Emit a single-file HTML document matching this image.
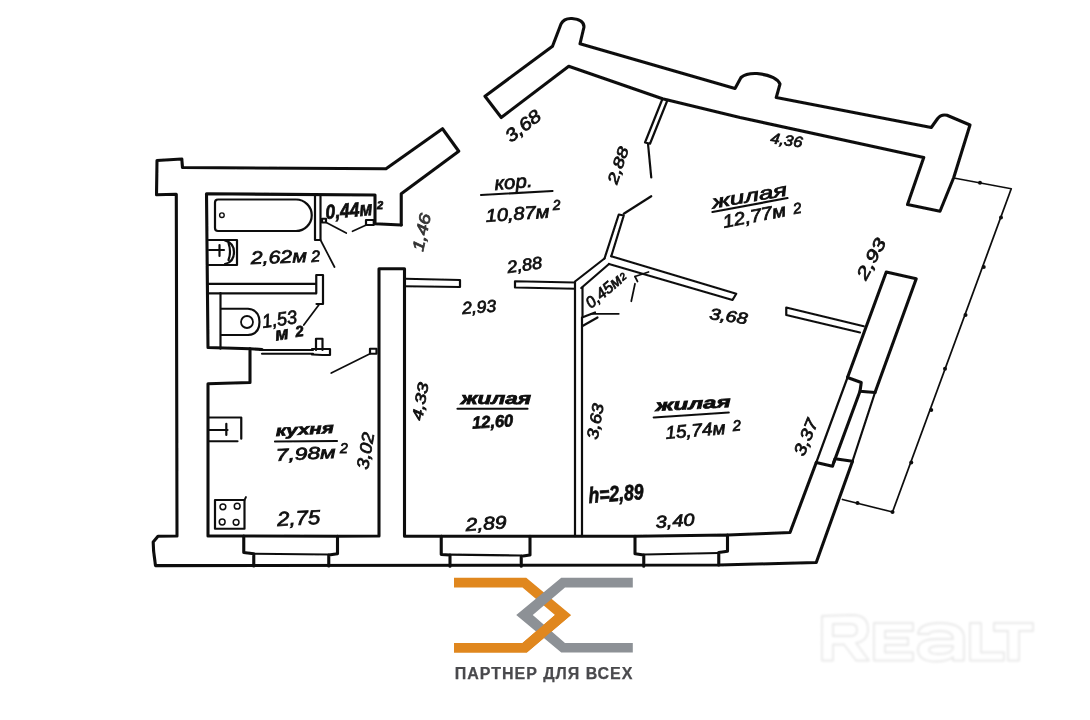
<!DOCTYPE html>
<html><head><meta charset="utf-8"><title>plan</title>
<style>
html,body{margin:0;padding:0;background:#fff;}
body{width:1090px;height:720px;overflow:hidden;font-family:"Liberation Sans",sans-serif;}
svg{display:block;}
svg text{font-family:"Liberation Sans",sans-serif;}
</style></head><body>
<svg width="1090" height="720" viewBox="0 0 1090 720">
<defs>
<filter id="b0" x="-2%" y="-20%" width="104%" height="140%"><feGaussianBlur stdDeviation="0.3"/></filter>
<filter id="b1" x="-2%" y="-2%" width="104%" height="104%"><feGaussianBlur stdDeviation="0.45"/></filter>
<filter id="b2" x="-5%" y="-10%" width="110%" height="120%"><feGaussianBlur stdDeviation="0.8"/></filter>
</defs>
<rect width="1090" height="720" fill="#fff"/>
<g filter="url(#b1)">
<g fill="none" stroke="#111" stroke-linejoin="round" stroke-linecap="round">
<g stroke-width="3.1">
<path d="M401.25,225.00 L375.00,223.75 L375.00,195.00 L206.50,193.75 L208.00,347.50 L250.00,348.75 L250.00,382.50 L208.00,383.75 L208.00,536.00 L243.75,536.00 L243.75,552.50 L253.75,553.75 L253.75,566.00"/>
<path d="M401.25,225.00 L401.25,193.75 L458.75,151.25 L442.50,128.75 L386.00,168.75 L182.50,167.50 L181.80,159.00 L157.00,160.50 L156.50,194.70 L176.30,194.30 L177.00,536.00 L158.00,536.30 L153.20,542.00 L153.60,551.00 L155.50,565.60 L718.75,565.00 L816.25,562.50 L852.50,461.25"/>
<path d="M337.50,536.25 L379.00,536.00 L379.00,268.75 L404.50,268.75 L404.50,536.25 L441.25,536.25"/>
<path d="M243.75,536.00 L337.50,536.25 L337.50,553.75 L328.75,555.00 L328.75,566.00"/>
<path d="M441.25,536.25 L441.25,554.50 L450.00,555.00 L450.00,566.25"/>
<path d="M441.25,536.25 L530.00,536.25 L530.00,555.00 L521.25,556.25 L521.25,566.25"/>
<path d="M530.00,536.25 L635.00,536.25 L635.00,553.75 L643.75,555.00 L643.75,566.25"/>
<path d="M635.00,536.25 L727.50,535.00 L727.50,551.25 L718.75,552.50 L718.75,565.00"/>
<path d="M727.50,535.00 L790.00,532.50 L816.25,462.50"/>
<path d="M816.25,462.50 L832.50,466.25 L835.00,458.75 L852.50,461.25"/>
<path d="M833.75,462.50 L860.00,391.25"/>
<path d="M847.50,377.50 L861.25,382.50 L860.00,391.25 L875.00,392.50"/>
<path d="M847.50,377.50 L886.25,272.00 L916.25,278.75 L875.00,392.50"/>
<path d="M485,96.25 L552.5,46.25 L561,24 Q564,18 572,18.5 Q584,19.5 584,27 L580,43.75 L735,88.5 L741,77.5 Q746,73 757,73.5 Q776,75.5 780,84 L776.25,97.5 L931.25,127.5 L937.5,118.75 Q941,114 947,115.2 L970,125 L953.75,177.5 L940,211.25 L907.5,204.5 L923.75,157.5 L740,117.5 L662.5,98.75 L568.75,66.25 L501.25,117.5 Z"/>
<path d="M250.00,348.75 L262.00,349.50"/>
</g>
<g stroke-width="2.2">
<path d="M253.75,553.75 L328.75,554.50"/>
<path d="M450.00,554.70 L521.25,555.50"/>
<path d="M643.75,554.50 L718.75,553.00"/>
<path d="M816.25,462.50 L847.50,377.50"/>
<path d="M852.50,461.25 L875.00,392.50"/>
<path d="M315.00,195.00 L315.00,240.00 L320.50,240.00 L320.50,195.00"/>
<path d="M322.00,218.75 L326.00,218.75 L326.00,222.50 L322.00,222.50 Z"/>
<path d="M366.00,220.00 L373.75,220.00 L373.75,225.00 L366.00,225.00 Z"/>
<path d="M208.00,283.80 L316.00,283.80"/>
<path d="M208.00,293.30 L316.00,293.30"/>
<path d="M316.25,293.30 L316.25,275.00 L323.00,275.00 L323.00,304.00 L316.50,304.00"/>
<path d="M220.50,293.00 L220.50,348.75"/>
<path d="M221,308.75 L248,308.75 Q259.5,310 259.5,322 Q259.5,334 248,335 L221,335"/>
<path d="M260.00,350.00 L313.00,350.00"/>
<path d="M262.00,353.75 L313.00,353.75"/>
<path d="M316.00,350.00 L316.00,338.75 L322.50,338.75 L322.50,350.00"/>
<path d="M312.00,349.00 L330.00,349.00 L330.00,355.00 L322.50,355.00 L312.00,354.50"/>
<path d="M370.00,348.75 L376.50,348.75 L376.50,353.75 L370.00,353.75 Z"/>
<path d="M218,199.5 L296,199.5 A15.5,15.5 0 0 1 296,231 L218,231 Q215,231 215,228 L215,202.5 Q215,199.5 218,199.5 Z"/>
<path d="M208.75,240.00 L237.00,240.00 L237.00,265.00 L208.75,265.00"/>
<path d="M225,240.5 Q234,243 234,252 Q234,262 225,264"/>
<path d="M228.5,243 Q231.5,252 228.5,260"/>
<path d="M209.00,250.00 L224.00,250.00"/>
<path d="M219.50,245.00 L219.50,256.00"/>
<path d="M208.75,417.50 L241.25,417.50 L241.25,438.75"/>
<path d="M208.75,441.25 L237.50,441.25"/>
<path d="M208.75,430.00 L227.50,430.00"/>
<path d="M226.30,423.75 L226.30,435.00"/>
<path d="M215.00,500.00 L244.50,500.00 L244.50,528.75 L215.00,528.75 Z"/>
<path d="M405.00,278.75 L460.00,280.00 L460.00,287.00 L405.00,286.25"/>
<path d="M575.00,282.50 L515.00,281.25 L515.00,287.50 L575.00,288.75"/>
<path d="M575.00,282.50 L575.00,536.25"/>
<path d="M582.00,318.00 L582.00,536.25"/>
<path d="M575.00,281.50 L604.50,258.50"/>
<path d="M582.50,287.50 L582.50,317.00"/>
<path d="M581.25,288.00 L609.00,264.00"/>
<path d="M582.00,317.50 L595.00,312.50"/>
<path d="M582.50,326.00 L597.50,317.50"/>
<path d="M604.50,258.50 L618.75,214.50 L623.75,215.50 L611.25,256.25"/>
<path d="M623.75,213.75 L651.25,196.25"/>
<path d="M611.25,256.25 L736.25,293.75 L732.50,300.00 L609.00,264.00"/>
<path d="M662.50,98.75 L645.00,142.50 L650.00,143.75 L667.50,100.00"/>
<path d="M648.00,143.75 L651.25,177.50"/>
<path d="M863.75,326.25 L786.25,307.50 L786.25,315.00 L860.00,332.50"/>
<path d="M275.00,441.50 L337.00,441.00"/>
<path d="M481.00,195.00 L552.50,191.00"/>
<path d="M712.50,212.00 L787.50,198.00"/>
<path d="M457.50,408.75 L527.50,408.75"/>
<path d="M653.75,417.50 L728.75,412.50"/>
</g>
<g stroke-width="1.75">
<path d="M320.50,240.00 L334.50,267.00"/>
<path d="M326.25,222.50 L346.25,233.00"/>
<path d="M352.50,231.25 L366.25,225.00"/>
<path d="M318.75,305.00 L303.75,325.00"/>
<path d="M370.00,353.75 L331.25,373.00"/>
<path d="M244.50,500.00 L246.00,497.00"/>
<path d="M591.00,313.75 L618.75,313.75"/>
<path d="M635.00,276.50 L648.50,272.00"/>
<path d="M635.00,276.50 L637.50,281.50"/>
<path d="M635.00,283.75 L631.25,301.25"/>
<path d="M953.75,178.00 L1011.25,188.75 L892.50,512.00 L842.50,499.50"/>
</g>
</g>
<circle cx="247" cy="322" r="6" fill="none" stroke="#111" stroke-width="1.8"/>
<circle cx="221.9" cy="215.2" r="2.3" fill="none" stroke="#111" stroke-width="1.4"/>
<circle cx="222.9" cy="506.8" r="2.9" fill="none" stroke="#111" stroke-width="1.5"/>
<circle cx="237.2" cy="506.2" r="2.9" fill="none" stroke="#111" stroke-width="1.5"/>
<circle cx="222.2" cy="522" r="2.9" fill="none" stroke="#111" stroke-width="1.5"/>
<circle cx="236.1" cy="522.3" r="2.9" fill="none" stroke="#111" stroke-width="1.5"/>
<circle cx="980" cy="182.8" r="2" fill="#111"/>
<circle cx="1001" cy="217.5" r="2" fill="#111"/>
<circle cx="983.75" cy="267" r="2" fill="#111"/>
<circle cx="965.5" cy="315" r="2" fill="#111"/>
<circle cx="945" cy="368.75" r="2" fill="#111"/>
<circle cx="931.25" cy="410" r="2" fill="#111"/>
<circle cx="911.25" cy="462.5" r="2" fill="#111"/>
<circle cx="892.5" cy="512" r="2" fill="#111"/>
<circle cx="857.5" cy="503" r="2" fill="#111"/>
<g>
<text x="326" y="219" font-size="20" font-weight="700" font-style="italic" transform="rotate(-5 326 219)" textLength="47" lengthAdjust="spacingAndGlyphs" fill="#111" stroke="#111" stroke-width="0.75">0,44м</text>
<text x="377" y="209" font-size="11" font-weight="700" font-style="italic" fill="#111" stroke="#111" stroke-width="0.75">2</text>
<text x="251" y="264" font-size="18" font-weight="400" font-style="italic" transform="rotate(-2 251 264)" textLength="56" lengthAdjust="spacingAndGlyphs" fill="#111" stroke="#111" stroke-width="0.75">2,62м</text>
<text x="311.5" y="262" font-size="16" font-weight="400" font-style="italic" transform="rotate(-4 311.5 262)" fill="#111" stroke="#111" stroke-width="0.75">2</text>
<text x="263" y="328" font-size="19" font-weight="400" font-style="italic" transform="rotate(-8 263 328)" textLength="35" lengthAdjust="spacingAndGlyphs" fill="#111" stroke="#111" stroke-width="0.75">1,53</text>
<text x="276" y="340.5" font-size="18" font-weight="700" font-style="italic" transform="rotate(-8 276 340.5)" fill="#111" stroke="#111" stroke-width="0.75">м</text>
<text x="296" y="337" font-size="15" font-weight="700" font-style="italic" transform="rotate(-8 296 337)" fill="#111" stroke="#111" stroke-width="0.75">2</text>
<text x="276" y="436" font-size="15" font-weight="700" font-style="italic" transform="rotate(-3 276 436)" textLength="58" lengthAdjust="spacingAndGlyphs" fill="#111" stroke="#111" stroke-width="0.75">кухня</text>
<text x="276" y="461" font-size="17" font-weight="400" font-style="italic" transform="rotate(-3 276 461)" textLength="60" lengthAdjust="spacingAndGlyphs" fill="#111" stroke="#111" stroke-width="0.75">7,98м</text>
<text x="340" y="453" font-size="14" font-weight="400" font-style="italic" fill="#111" stroke="#111" stroke-width="0.75">2</text>
<text x="368" y="470" font-size="17" font-weight="400" font-style="italic" transform="rotate(-80 368 470)" textLength="37" lengthAdjust="spacingAndGlyphs" fill="#111" stroke="#111" stroke-width="0.75">3,02</text>
<text x="277.5" y="526" font-size="20" font-weight="400" font-style="italic" transform="rotate(-3 277.5 526)" textLength="43" lengthAdjust="spacingAndGlyphs" fill="#111" stroke="#111" stroke-width="0.75">2,75</text>
<text x="423" y="252" font-size="16" font-weight="400" font-style="italic" transform="rotate(-78 423 252)" textLength="38" lengthAdjust="spacingAndGlyphs" fill="#333" stroke="#333" stroke-width="0.75">1,46</text>
<text x="511" y="143" font-size="18" font-weight="400" font-style="italic" transform="rotate(-38 511 143)" textLength="40" lengthAdjust="spacingAndGlyphs" fill="#111" stroke="#111" stroke-width="0.75">3,68</text>
<text x="495" y="190" font-size="19" font-weight="400" font-style="italic" transform="rotate(-5 495 190)" textLength="38" lengthAdjust="spacingAndGlyphs" fill="#111" stroke="#111" stroke-width="0.75">кор.</text>
<text x="486" y="222" font-size="18" font-weight="400" font-style="italic" transform="rotate(-4 486 222)" textLength="64" lengthAdjust="spacingAndGlyphs" fill="#111" stroke="#111" stroke-width="0.75">10,87м</text>
<text x="553" y="210" font-size="14" font-weight="400" font-style="italic" transform="rotate(-4 553 210)" fill="#111" stroke="#111" stroke-width="0.75">2</text>
<text x="617" y="185" font-size="15" font-weight="400" font-style="italic" transform="rotate(-72 617 185)" textLength="38" lengthAdjust="spacingAndGlyphs" fill="#111" stroke="#111" stroke-width="0.75">2,88</text>
<text x="713" y="208.5" font-size="18" font-weight="400" font-style="italic" transform="rotate(-10 713 208.5)" textLength="76" lengthAdjust="spacingAndGlyphs" fill="#111" stroke="#111" stroke-width="0.75">жилая</text>
<text x="724" y="228" font-size="18" font-weight="400" font-style="italic" transform="rotate(-11 724 228)" textLength="64" lengthAdjust="spacingAndGlyphs" fill="#111" stroke="#111" stroke-width="0.75">12,77м</text>
<text x="794" y="214" font-size="15" font-weight="400" font-style="italic" transform="rotate(-10 794 214)" fill="#111" stroke="#111" stroke-width="0.75">2</text>
<text x="770" y="143" font-size="15" font-weight="400" font-style="italic" transform="rotate(8 770 143)" textLength="32" lengthAdjust="spacingAndGlyphs" fill="#111" stroke="#111" stroke-width="0.75">4,36</text>
<text x="866" y="281" font-size="17" font-weight="400" font-style="italic" transform="rotate(-62 866 281)" textLength="44" lengthAdjust="spacingAndGlyphs" fill="#111" stroke="#111" stroke-width="0.75">2,93</text>
<text x="508" y="273" font-size="17" font-weight="400" font-style="italic" transform="rotate(-8 508 273)" textLength="35" lengthAdjust="spacingAndGlyphs" fill="#111" stroke="#111" stroke-width="0.75">2,88</text>
<text x="462.5" y="314" font-size="17" font-weight="400" font-style="italic" transform="rotate(-4 462.5 314)" textLength="34" lengthAdjust="spacingAndGlyphs" fill="#111" stroke="#111" stroke-width="0.75">2,93</text>
<text x="591" y="309" font-size="16" font-weight="400" font-style="italic" transform="rotate(-40 591 309)" textLength="42" lengthAdjust="spacingAndGlyphs" fill="#111" stroke="#111" stroke-width="0.75">0,45м</text>
<text x="623" y="281" font-size="10" font-weight="400" font-style="italic" transform="rotate(-40 623 281)" fill="#111" stroke="#111" stroke-width="0.75">2</text>
<text x="709" y="319" font-size="16" font-weight="400" font-style="italic" transform="rotate(8 709 319)" textLength="38" lengthAdjust="spacingAndGlyphs" fill="#111" stroke="#111" stroke-width="0.75">3,68</text>
<text x="422" y="421" font-size="15" font-weight="400" font-style="italic" transform="rotate(-80 422 421)" textLength="38" lengthAdjust="spacingAndGlyphs" fill="#111" stroke="#111" stroke-width="0.75">4,33</text>
<text x="461" y="403.5" font-size="16" font-weight="700" font-style="italic" textLength="70" lengthAdjust="spacingAndGlyphs" fill="#111" stroke="#111" stroke-width="0.75">жилая</text>
<text x="472.5" y="428.5" font-size="17" font-weight="700" font-style="italic" transform="rotate(-3 472.5 428.5)" textLength="41" lengthAdjust="spacingAndGlyphs" fill="#111" stroke="#111" stroke-width="0.75">12,60</text>
<text x="466" y="531" font-size="18" font-weight="400" font-style="italic" transform="rotate(-4 466 531)" textLength="41" lengthAdjust="spacingAndGlyphs" fill="#111" stroke="#111" stroke-width="0.75">2,89</text>
<text x="597.5" y="440" font-size="16" font-weight="400" font-style="italic" transform="rotate(-80 597.5 440)" textLength="36" lengthAdjust="spacingAndGlyphs" fill="#111" stroke="#111" stroke-width="0.75">3,63</text>
<text x="589" y="503" font-size="22" font-weight="700" font-style="italic" transform="rotate(-4 589 503)" textLength="55" lengthAdjust="spacingAndGlyphs" fill="#111" stroke="#111" stroke-width="0.75">h=2,89</text>
<text x="656" y="411" font-size="16" font-weight="700" font-style="italic" transform="rotate(-3 656 411)" textLength="75" lengthAdjust="spacingAndGlyphs" fill="#111" stroke="#111" stroke-width="0.75">жилая</text>
<text x="666" y="439" font-size="18" font-weight="400" font-style="italic" transform="rotate(-5 666 439)" textLength="60" lengthAdjust="spacingAndGlyphs" fill="#111" stroke="#111" stroke-width="0.75">15,74м</text>
<text x="733" y="431" font-size="15" font-weight="400" font-style="italic" transform="rotate(-5 733 431)" fill="#111" stroke="#111" stroke-width="0.75">2</text>
<text x="656" y="528" font-size="17" font-weight="400" font-style="italic" transform="rotate(-4 656 528)" textLength="39" lengthAdjust="spacingAndGlyphs" fill="#111" stroke="#111" stroke-width="0.75">3,40</text>
<text x="804" y="457" font-size="17" font-weight="400" font-style="italic" transform="rotate(-68 804 457)" textLength="38" lengthAdjust="spacingAndGlyphs" fill="#111" stroke="#111" stroke-width="0.75">3,37</text>
</g>
</g>
<path d="M454.00,577.75 L526.25,577.75 L571.00,615.00 L526.88,652.50 L454.00,652.50 L454.00,643.10 L522.50,643.12 L555.00,615.00 L522.50,587.50 L454.00,587.50 Z" fill="#e0871e"/><path d="M632.80,577.75 L561.25,577.75 L516.25,615.00 L561.25,652.50 L632.80,652.50 L632.80,643.10 L565.00,643.12 L532.75,615.00 L565.00,587.50 L632.80,587.50 Z" fill="#8d9196"/><clipPath id="lc"><rect x="440" y="615" width="220" height="60"/></clipPath><path d="M454.00,577.75 L526.25,577.75 L571.00,615.00 L526.88,652.50 L454.00,652.50 L454.00,643.10 L522.50,643.12 L555.00,615.00 L522.50,587.50 L454.00,587.50 Z" fill="#e0871e" clip-path="url(#lc)"/><text x="454.8" y="678.6" font-size="16" font-weight="700" fill="#4a4a4d" stroke="#4a4a4d" stroke-width="0.25" textLength="177.6" lengthAdjust="spacing" filter="url(#b0)">ПАРТНЕР ДЛЯ ВСЕХ</text><g fill="#fff" stroke="#e9e9e9" stroke-width="1.8" stroke-linejoin="round" filter="url(#b2)"><path d="M822,616 L852,615 Q868,615 868,629 Q868,641 856,643 L869,660.5 L856,660.5 L844,644.5 L833,644.5 L833,660.5 L822,660.5 Z M833,624 L833,636 L851,636 Q857,636 857,630 Q857,624 851,624 Z" fill-rule="evenodd"/><path d="M874,623 L913,623 L913,631 L885,631 L885,638 L908,638 L908,645 L885,645 L885,652.5 L913,652.5 L913,660.5 L874,660.5 Z"/><path d="M918,634 Q919,623 940,623 Q964,623 964,638 L964,660.5 L953,660.5 L953,657 Q947,661.5 936,661.5 Q918,661.5 918,649.5 Q918,638.5 940,639 L953,639 Q953,631 940,631 Q930,631 929,634 Z M953,646 L939,646 Q929,646 929,650 Q929,654 938,654 Q953,654 953,647 Z" fill-rule="evenodd"/><path d="M970,623 L981,623 L981,652.5 L1004,652.5 L1004,660.5 L970,660.5 Z"/><path d="M994,623 L1033,623 L1033,631 L1019,631 L1019,660.5 L1008,660.5 L1008,631 L994,631 Z"/></g>
</svg>
</body></html>
